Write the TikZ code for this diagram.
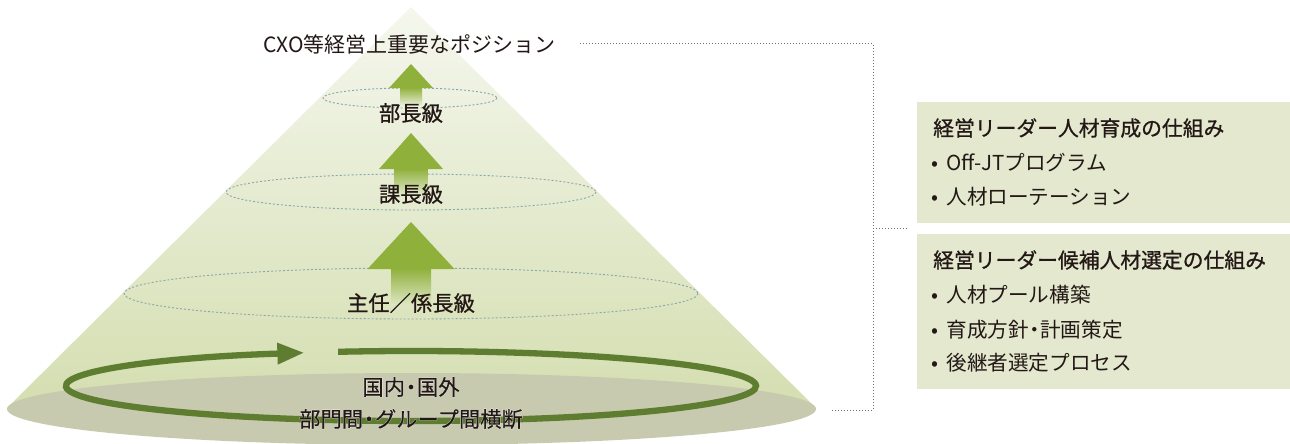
\documentclass[tikz,border=0pt]{standalone}
\usepackage{fontspec}
\setmainfont{Noto Sans CJK JP}
\newfontfamily\medfont[FakeBold=0.8]{Noto Sans CJK JP}
\newfontfamily\halofont[FakeBold=3.5]{Noto Sans CJK JP}
\newcommand{\halotext}[1]{\leavevmode\rlap{\color{white}\halofont #1}#1}
\newcommand{\nakadot}{\kern-0.22em・\kern-0.22em}
\newcommand{\bul}{•\hspace{0.4em}}
\usetikzlibrary{arrows.meta,calc}
\definecolor{conetop}{HTML}{F5F7EE}
\definecolor{conebot}{HTML}{D4DEB0}
\definecolor{basegrey}{HTML}{C8CAAF}
\definecolor{ringgreen}{HTML}{5E7D31}
\definecolor{arrowgreen}{HTML}{8FB03B}
\definecolor{dotblue}{HTML}{8AA5AB}
\definecolor{boxfill}{HTML}{E3E8CF}
\definecolor{txt}{HTML}{231815}
\definecolor{linegrey}{HTML}{707070}
\tikzset{
  lbl/.style={inner sep=0pt, text=txt, font=\medfont\fontsize{21.3}{25}\selectfont},
  plain/.style={inner sep=0pt, text=txt, font=\fontsize{21}{25}\selectfont},
  boxtitle/.style={inner sep=0pt, anchor=west, text=txt, font=\medfont\fontsize{20.8}{25}\selectfont},
  boxitem/.style={inner sep=0pt, anchor=west, text=txt, font=\fontsize{20.6}{25}\selectfont},
  boxbg/.style={fill=boxfill, draw=none, anchor=north west, inner sep=0pt, minimum width=373, },
  dotell/.style={draw=dotblue, line width=0.9pt, dash pattern=on 2pt off 2pt},
  conn/.style={draw=linegrey, line width=1pt, dash pattern=on 1.2pt off 1.8pt},
  ring/.style={draw=ringgreen, line width=6.3pt},
}
\begin{document}
\begin{tikzpicture}[x=1pt,y=-1pt]
\useasboundingbox (0,0) rectangle (1290,444);
% cone
\shade[top color=conetop, bottom color=conebot] (7,408) -- (411,7) -- (816,408) -- cycle;
\fill[basegrey] (411.5,409) ellipse [x radius=404.5, y radius=36];
% dotted level ellipses
\draw[dotell] (410,98) ellipse [x radius=87, y radius=10];
\draw[dotell] (411,192) ellipse [x radius=185, y radius=18];
\draw[dotell] (411,293.5) ellipse [x radius=287, y radius=25.5];
% block arrows
\shade[top color=arrowgreen, bottom color={rgb,255:red,236;green,240;blue,222}] (400,87.5) rectangle (422,106);
\fill[arrowgreen] (411,64) -- (433,88) -- (389,88) -- cycle;
\shade[top color=arrowgreen, bottom color={rgb,255:red,229;green,235;blue,209}] (394.5,168.5) rectangle (427.5,196);
\fill[arrowgreen] (411,133) -- (443,169) -- (379,169) -- cycle;
\shade[top color=arrowgreen, bottom color={rgb,255:red,221;green,229;blue,193}] (391,268.5) rectangle (431,304);
\fill[arrowgreen] (411,222) -- (454.5,269) -- (367.5,269) -- cycle;
% ring arrow (y axis points down: negative angles are at the top)
\coordinate (ringc) at (411,386);
\draw[ring, -{Triangle[length=27pt,width=20pt]}] ($(ringc)+(-102.2:345 and 35)$) arc[start angle=-102.2, end angle=252, x radius=345, y radius=35];
% labels in cone
\node[plain] (cxo) at (409.5,44) {CXO等経営上重要なポジション};
\node[lbl] (bucho) at (411,113) {部長級};
\node[lbl] (kacho) at (411,194) {課長級};
\node[lbl] (shunin) at (411,303) {主任／係長級};
\node[lbl] (kokunai) at (411,387) {\halotext{国内\nakadot 国外}};
\node[lbl] (bumon) at (411,419) {\halotext{部門間\nakadot グループ間横断}};
% boxes
\node[boxbg, minimum height=121] (box1) at (917,102) {};
\node[boxbg, minimum height=155] (box2) at (917,234) {};
\node[boxtitle] (t1) at (933,128) {経営リーダー人材育成の仕組み};
\node[boxitem] (t1a) at (931,163) {\bul Off-JTプログラム};
\node[boxitem] (t1b) at (931,197) {\bul 人材ローテーション};
\node[boxtitle] (t2) at (933,260) {経営リーダー候補人材選定の仕組み};
\node[boxitem] (t2a) at (931,295) {\bul 人材プール構築};
\node[boxitem] (t2b) at (931,330) {\bul 育成方針\nakadot 計画策定};
\node[boxitem] (t2c) at (931,363) {\bul 後継者選定プロセス};
% connectors
\coordinate (ctop) at (873,44);
\coordinate (cbot) at (873,410);
\coordinate (cbotend) at (832,410);
\coordinate (cmid) at (873,228);
\coordinate (cmidend) at (908,228);
\draw[conn] ([xshift=24pt]cxo.east) -- (ctop) -- (cbot) -- (cbotend);
\draw[conn] (cmid) -- (cmidend);
\end{tikzpicture}
\end{document}
